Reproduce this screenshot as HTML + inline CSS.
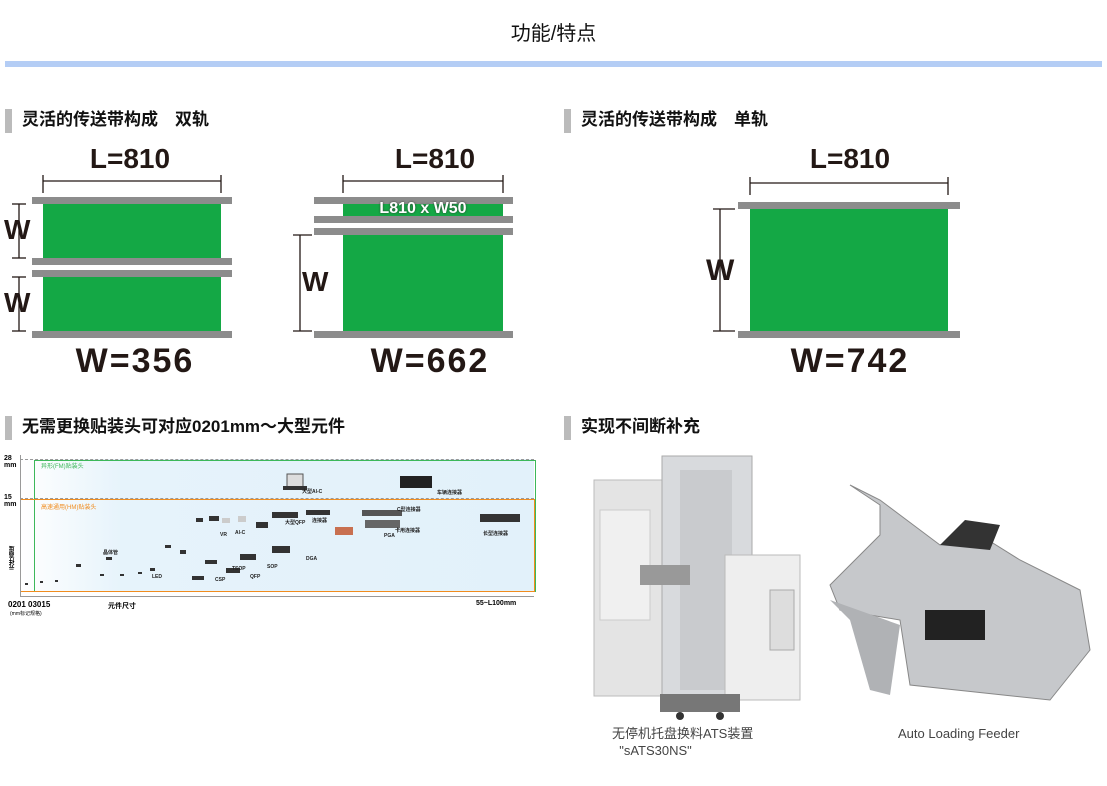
<!DOCTYPE html>
<html><head><meta charset="utf-8"><style>
*{margin:0;padding:0}
body{width:1107px;height:786px;background:#fff;position:relative;overflow:hidden;font-family:"Liberation Sans","Noto Sans CJK SC",sans-serif}
.a{position:absolute}
.h{position:absolute;font-size:17px;font-weight:bold;color:#111;padding-left:17px;height:22px;line-height:22px}
.h:before{content:"";position:absolute;left:0;top:0;width:7px;height:24px;background:#bbb}
.r{position:absolute;background:#8c8c8c;height:7px}
.g{position:absolute;background:#14a845}
.big{position:absolute;font-weight:bold;color:#231815;text-align:center}
</style></head><body>
<div class="a" style="left:0;top:17px;width:1107px;text-align:center;font-size:20px;color:#111">功能/特点</div>
<div class="a" style="left:5px;top:61px;width:1097px;height:6px;background:#b4cdf5"></div>

<div class="h" style="left:5px;top:109px">灵活的传送带构成　双轨</div>
<div class="h" style="left:564px;top:109px">灵活的传送带构成　单轨</div>
<div class="h" style="left:5px;top:416px">无需更换贴装头可对应0201mm～大型元件</div>
<div class="h" style="left:564px;top:416px">实现不间断补充</div>

<svg class="a" style="left:0;top:0" width="1107" height="400">
<g stroke="#231815" stroke-width="1.3" fill="none">
<line x1="43" y1="181" x2="221" y2="181"/><line x1="43" y1="175" x2="43" y2="193"/><line x1="221" y1="175" x2="221" y2="193"/>
<line x1="343" y1="181" x2="503" y2="181"/><line x1="343" y1="175" x2="343" y2="193"/><line x1="503" y1="175" x2="503" y2="193"/>
<line x1="750" y1="183" x2="948" y2="183"/><line x1="750" y1="177" x2="750" y2="195"/><line x1="948" y1="177" x2="948" y2="195"/>
<line x1="19" y1="204" x2="19" y2="258"/><line x1="12" y1="204" x2="26" y2="204"/><line x1="12" y1="258" x2="26" y2="258"/>
<line x1="19" y1="277" x2="19" y2="331"/><line x1="12" y1="277" x2="26" y2="277"/><line x1="12" y1="331" x2="26" y2="331"/>
<line x1="300" y1="235" x2="300" y2="331"/><line x1="293" y1="235" x2="312" y2="235"/><line x1="293" y1="331" x2="312" y2="331"/>
<line x1="720" y1="209" x2="720" y2="331"/><line x1="713" y1="209" x2="735" y2="209"/><line x1="713" y1="331" x2="735" y2="331"/>
</g>
</svg>

<div class="g" style="left:43px;top:204px;width:178px;height:54px"></div>
<div class="g" style="left:43px;top:277px;width:178px;height:54px"></div>
<div class="r" style="left:32px;top:197px;width:200px"></div>
<div class="r" style="left:32px;top:258px;width:200px"></div>
<div class="r" style="left:32px;top:270px;width:200px"></div>
<div class="r" style="left:32px;top:331px;width:200px"></div>

<div class="g" style="left:343px;top:203px;width:160px;height:15px"></div>
<div class="g" style="left:343px;top:235px;width:160px;height:96px"></div>
<div class="r" style="left:314px;top:197px;width:199px"></div>
<div class="r" style="left:314px;top:216px;width:199px"></div>
<div class="r" style="left:314px;top:228px;width:199px"></div>
<div class="r" style="left:314px;top:331px;width:199px"></div>
<div class="a" style="left:343px;top:200px;width:160px;text-align:center;color:#fff;font-weight:bold;font-size:16px;text-shadow:0 0 2px #333">L810 x W50</div>

<div class="g" style="left:750px;top:209px;width:198px;height:122px"></div>
<div class="r" style="left:738px;top:202px;width:222px"></div>
<div class="r" style="left:738px;top:331px;width:222px"></div>

<div class="big" style="left:70px;top:143px;width:120px;font-size:28px">L=810</div>
<div class="big" style="left:375px;top:143px;width:120px;font-size:28px">L=810</div>
<div class="big" style="left:790px;top:143px;width:120px;font-size:28px">L=810</div>
<div class="big" style="left:4px;top:214px;font-size:28px">W</div>
<div class="big" style="left:4px;top:287px;font-size:28px">W</div>
<div class="big" style="left:302px;top:266px;font-size:28px">W</div>
<div class="big" style="left:706px;top:254px;font-size:30px">W</div>
<div class="big" style="left:40px;top:342px;width:190px;font-size:34px;letter-spacing:2px">W=356</div>
<div class="big" style="left:335px;top:342px;width:190px;font-size:34px;letter-spacing:2px">W=662</div>
<div class="big" style="left:755px;top:342px;width:190px;font-size:34px;letter-spacing:2px">W=742</div>

<!-- chart -->
<div class="a" style="left:20px;top:459px;width:514px;height:133px;background:linear-gradient(90deg,#fff 0%,#e6f3fb 20%,#e2f1fa 100%)"></div>
<div class="a" style="left:34px;top:460px;width:500px;height:130px;border:1px solid #3cb85a"></div>
<div class="a" style="left:20px;top:499px;width:513px;height:91px;border:1px solid #f08c1e"></div>
<div class="a" style="left:20px;top:459px;width:514px;border-top:1px dashed #999"></div>
<div class="a" style="left:20px;top:498px;width:514px;border-top:1px dashed #999"></div>
<div class="a" style="left:20px;top:596px;width:514px;border-top:1px solid #999"></div>
<div class="a" style="left:20px;top:455px;height:142px;border-left:1px solid #999"></div>
<div class="a" style="left:4px;top:455px;font-size:7px;font-weight:bold;line-height:7px">28<br>mm</div>
<div class="a" style="left:4px;top:494px;font-size:7px;font-weight:bold;line-height:7px">15<br>mm</div>
<div class="a" style="left:41px;top:461px;font-size:6px;color:#3cb85a">异形(FM)贴装头</div>
<div class="a" style="left:41px;top:502px;font-size:6px;color:#f08c1e">高速通用(HM)贴装头</div>
<div class="a" style="left:8px;top:546px;font-size:6px;font-weight:bold;writing-mode:vertical-rl;transform:rotate(180deg)">元件高度</div>
<div class="a" style="left:8px;top:600px;font-size:8px;font-weight:bold">0201 03015</div>
<div class="a" style="left:10px;top:610px;font-size:5px">(mm标记规格)</div>
<div class="a" style="left:108px;top:601px;font-size:7px;font-weight:bold">元件尺寸</div>
<div class="a" style="left:476px;top:600px;font-size:7px;font-weight:bold">55~L100mm</div>
<svg class="a" style="left:0;top:450px" width="550" height="150">
<g fill="#333">
<rect x="287" y="24" width="16" height="14" fill="#ddd" stroke="#555"/><rect x="283" y="36" width="24" height="4"/>
<rect x="400" y="26" width="32" height="12" fill="#222"/><rect x="480" y="64" width="40" height="8"/>
<rect x="272" y="62" width="26" height="6"/><rect x="306" y="60" width="24" height="5"/>
<rect x="335" y="77" width="18" height="8" fill="#c87050"/><rect x="362" y="60" width="40" height="6" fill="#555"/>
<rect x="365" y="70" width="35" height="8" fill="#666"/><rect x="256" y="72" width="12" height="6"/>
<rect x="209" y="66" width="10" height="5"/><rect x="196" y="68" width="7" height="4"/><rect x="222" y="68" width="8" height="5" fill="#ccc"/><rect x="238" y="66" width="8" height="6" fill="#ccc"/>
<rect x="205" y="110" width="12" height="4"/><rect x="226" y="118" width="14" height="5"/><rect x="240" y="104" width="16" height="6"/><rect x="272" y="96" width="18" height="7"/>
<rect x="192" y="126" width="12" height="4"/><rect x="106" y="107" width="6" height="3"/><rect x="76" y="114" width="5" height="3"/>
<rect x="150" y="118" width="5" height="3"/><rect x="165" y="95" width="6" height="3"/><rect x="180" y="100" width="6" height="4"/><rect x="138" y="122" width="4" height="2"/>
<rect x="120" y="124" width="4" height="2"/><rect x="100" y="124" width="4" height="2"/><rect x="55" y="130" width="3" height="2"/><rect x="40" y="131" width="3" height="2"/><rect x="25" y="133" width="3" height="2"/>
</g>
<g font-size="5" font-weight="bold" fill="#222" font-family="Liberation Sans,Noto Sans CJK SC,sans-serif">
<text x="302" y="43">大型Al-C</text><text x="437" y="44">车辆连接器</text><text x="397" y="61">C型连接器</text><text x="395" y="82">卡用连接器</text>
<text x="483" y="85">长型连接器</text><text x="384" y="87">PGA</text><text x="285" y="74">大型QFP</text><text x="312" y="72">连接器</text>
<text x="220" y="86">VR</text><text x="235" y="84">Al-C</text><text x="103" y="104">晶体管</text><text x="152" y="128">LED</text>
<text x="232" y="120">TSOP</text><text x="267" y="118">SOP</text><text x="250" y="128">QFP</text><text x="306" y="110">DGA</text><text x="215" y="131">CSP</text>
</g></svg>

<!-- photos -->
<svg class="a" style="left:580px;top:450px" width="527" height="280">
<rect x="14" y="30" width="74" height="216" fill="#e4e4e4" stroke="#bbb"/>
<rect x="20" y="60" width="50" height="110" fill="#f0f0f0" stroke="#ccc"/>
<rect x="82" y="6" width="90" height="240" fill="#d8dadd" stroke="#aaa"/>
<rect x="100" y="20" width="52" height="220" fill="#c9cbce"/>
<rect x="60" y="115" width="50" height="20" fill="#999"/>
<rect x="145" y="105" width="75" height="145" fill="#eeeeee" stroke="#bbb"/>
<rect x="190" y="140" width="24" height="60" fill="#ddd" stroke="#aaa"/>
<rect x="80" y="244" width="80" height="18" fill="#777"/>
<circle cx="100" cy="266" r="4" fill="#333"/><circle cx="140" cy="266" r="4" fill="#333"/>
<path d="M270 35 L300 55 L300 85 L250 135 L260 160 L320 170 L330 235 L470 250 L510 200 L500 140 L440 110 L400 85 L360 95 L300 50 Z" fill="#c6c8cb" stroke="#888"/>
<path d="M360 95 L385 70 L420 75 L410 100 Z" fill="#333"/>
<rect x="345" y="160" width="60" height="30" fill="#222"/>
<path d="M250 150 L270 170 L290 240 L310 245 L320 175 Z" fill="#b0b2b5"/>
</svg>
<div class="a" style="left:612px;top:725px;font-size:13px;color:#444;line-height:17px">无停机托盘换料ATS装置<br>&nbsp;&nbsp;"sATS30NS"</div>
<div class="a" style="left:898px;top:726px;font-size:13px;color:#444">Auto Loading Feeder</div>
</body></html>
